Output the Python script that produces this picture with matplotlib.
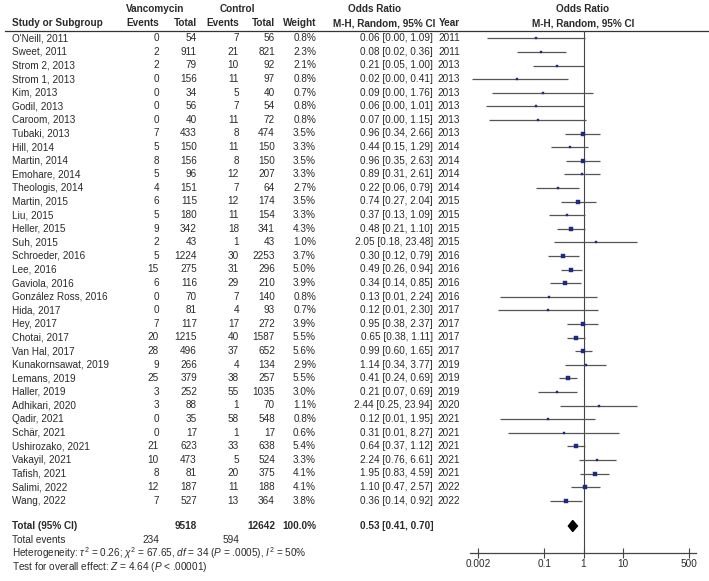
import matplotlib
matplotlib.use("Agg")
import matplotlib.pyplot as plt
import numpy as np

plt.rcParams['font.family'] = ['Liberation Sans', 'DejaVu Sans']
plt.rcParams['mathtext.fontset'] = 'custom'
plt.rcParams['mathtext.rm'] = 'Liberation Sans'
plt.rcParams['mathtext.it'] = 'Liberation Sans:italic'
plt.rcParams['mathtext.bf'] = 'Liberation Sans:bold'

studies = ["O'Neill, 2011", "Sweet, 2011", "Strom 2, 2013", "Strom 1, 2013", "Kim, 2013",
           "Godil, 2013", "Caroom, 2013", "Tubaki, 2013", "Hill, 2014", "Martin, 2014",
           "Emohare, 2014", "Theologis, 2014", "Martin, 2015", "Liu, 2015", "Heller, 2015",
           "Suh, 2015", "Schroeder, 2016", "Lee, 2016", "Gaviola, 2016", "González Ross, 2016",
           "Hida, 2017", "Hey, 2017", "Chotai, 2017", "Van Hal, 2017", "Kunakornsawat, 2019",
           "Lemans, 2019", "Haller, 2019", "Adhikari, 2020", "Qadir, 2021", "Schär, 2021",
           "Ushirozako, 2021", "Vakayil, 2021", "Tafish, 2021", "Salimi, 2022", "Wang, 2022"]
vanco_events = [0, 2, 2, 0, 0, 0, 0, 7, 5, 8, 5, 4, 6, 5, 9, 2, 5, 15, 6, 0, 0, 7, 20, 28, 9, 25, 3, 3, 0, 0, 21, 10, 8, 12, 7]
vanco_total = [54, 911, 79, 156, 34, 56, 40, 433, 150, 156, 96, 151, 115, 180, 342, 43, 1224, 275, 116, 70,
               81, 117, 1215, 496, 266, 379, 252, 88, 35, 17, 623, 473, 81, 187, 527]
ctrl_events = [7, 21, 10, 11, 5, 7, 11, 8, 11, 8, 12, 7, 12, 11, 18, 1, 30, 31, 29, 7, 4, 17, 40, 37, 4, 38, 55, 1, 58, 1, 33, 5, 20, 11, 13]
ctrl_total = [56, 821, 92, 97, 40, 54, 72, 474, 150, 150, 207, 64, 174, 154, 341, 43, 2253, 296, 210, 140,
              93, 272, 1587, 652, 134, 257, 1035, 70, 548, 17, 638, 524, 375, 188, 364]
weights = [0.8, 2.3, 2.1, 0.8, 0.7, 0.8, 0.8, 3.5, 3.3, 3.5, 3.3, 2.7, 3.5, 3.3, 4.3, 1.0, 3.7, 5.0, 3.9, 0.8,
           0.7, 3.9, 5.5, 5.6, 2.9, 5.5, 3.0, 1.1, 0.8, 0.6, 5.4, 3.3, 4.1, 4.1, 3.8]
odds_ratio = [0.06, 0.08, 0.21, 0.02, 0.09, 0.06, 0.07, 0.96, 0.44, 0.96, 0.89, 0.22, 0.74, 0.37, 0.48, 2.05,
              0.30, 0.49, 0.34, 0.13, 0.12, 0.95, 0.65, 0.99, 1.14, 0.41, 0.21, 2.44, 0.12, 0.31, 0.64, 2.24,
              1.95, 1.10, 0.36]
ci_low = [0.0034, 0.02, 0.05, 0.0014, 0.0046, 0.0032, 0.0038, 0.34, 0.15, 0.35, 0.31, 0.06, 0.27, 0.13, 0.21,
          0.18, 0.12, 0.26, 0.14, 0.0072, 0.0065, 0.38, 0.38, 0.60, 0.34, 0.24, 0.07, 0.25, 0.0072, 0.0117,
          0.37, 0.76, 0.83, 0.47, 0.14]
ci_high = [1.09, 0.36, 1.00, 0.41, 1.76, 1.01, 1.15, 2.66, 1.29, 2.63, 2.61, 0.79, 2.04, 1.09, 1.10, 23.48,
           0.79, 0.94, 0.85, 2.24, 2.30, 2.37, 1.11, 1.65, 3.77, 0.69, 0.69, 23.94, 1.95, 8.27, 1.12, 6.61,
           4.59, 2.57, 0.92]
years = [2011, 2011, 2013, 2013, 2013, 2013, 2013, 2013, 2014, 2014, 2014, 2014, 2015, 2015, 2015, 2015,
         2016, 2016, 2016, 2016, 2017, 2017, 2017, 2017, 2019, 2019, 2019, 2020, 2021, 2021, 2021, 2021,
         2021, 2022, 2022]
total_n = [9518, 12642]
total_weight = "100.0%"
total_events = [234, 594]
pooled = [0.53, 0.41, 0.70]
tick_values = [0.002, 0.1, 1, 10, 500]
tick_labels = ["0.002", "0.1", "1", "10", "500"]

W, H = 709, 581
fig = plt.figure(figsize=(W / 100, H / 100), dpi=100)
ax = fig.add_axes([0, 0, 1, 1])
ax.set_xlim(0, W)
ax.set_ylim(H, 0)
ax.axis('off')

tc = '#2a2a2a'
fs = 7.2
row0, dy = 38.3, 13.6
ytot = 526

# headers
hb = dict(fontsize=fs, fontweight='bold', color=tc, va='center')
ax.text(155, 9, "Vancomycin", ha='center', **hb)
ax.text(237, 9, "Control", ha='center', **hb)
ax.text(375, 9, "Odds Ratio", ha='center', **hb)
ax.text(583, 9, "Odds Ratio", ha='center', **hb)
ax.text(12, 23, "Study or Subgroup", ha='left', **hb)
ax.text(159, 23, "Events", ha='right', **hb)
ax.text(197, 23, "Total", ha='right', **hb)
ax.text(239, 23, "Events", ha='right', **hb)
ax.text(275, 23, "Total", ha='right', **hb)
ax.text(316, 23, "Weight", ha='right', **hb)
ax.text(435, 23, "M-H, Random, 95% CI", ha='right', **hb)
ax.text(460, 23, "Year", ha='right', **hb)
ax.text(583, 23, "M-H, Random, 95% CI", ha='center', **hb)
ax.plot([5, W], [30.5, 30.5], color='#333333', lw=0.9)

rt = dict(fontsize=fs, color=tc, va='center')
for i, s in enumerate(studies):
    y = row0 + i * dy
    ax.text(12, y, s, ha='left', **rt)
    ax.text(159, y, f"{vanco_events[i]}", ha='right', **rt)
    ax.text(197, y, f"{vanco_total[i]}", ha='right', **rt)
    ax.text(239, y, f"{ctrl_events[i]}", ha='right', **rt)
    ax.text(275, y, f"{ctrl_total[i]}", ha='right', **rt)
    ax.text(316, y, f"{weights[i]:.1f}%", ha='right', **rt)
    ax.text(433, y, f"{odds_ratio[i]:.2f} [{ci_low[i]:.2f}, {ci_high[i]:.2f}]", ha='right', **rt)
    ax.text(460, y, f"{years[i]}", ha='right', **rt)

bt = dict(fontsize=fs, color=tc, va='center', fontweight='bold')
ax.text(12, ytot, "Total (95% CI)", ha='left', **bt)
ax.text(197, ytot, f"{total_n[0]}", ha='right', **bt)
ax.text(275, ytot, f"{total_n[1]}", ha='right', **bt)
ax.text(316, ytot, total_weight, ha='right', **bt)
ax.text(433, ytot, f"{pooled[0]:.2f} [{pooled[1]:.2f}, {pooled[2]:.2f}]", ha='right', **bt)
ax.text(12, 540, "Total events", ha='left', **rt)
ax.text(159, 540, f"{total_events[0]}", ha='right', **rt)
ax.text(239, 540, f"{total_events[1]}", ha='right', **rt)
ax.text(12, 553.5, r"Heterogeneity: $\tau^2$ = 0.26; $\chi^2$ = 67.65, $df$ = 34 ($P$ = .0005), $I^2$ = 50%",
        ha='left', **rt)
ax.text(12, 567, r"Test for overall effect: $Z$ = 4.64 ($P$ < .00001)", ha='left', **rt)

# forest axes
x_left, x_right = 470, 696
y_top, y_bot = 30.5, 552.7
fa = fig.add_axes([x_left / W, 1 - y_bot / H, (x_right - x_left) / W, (y_bot - y_top) / H])
fa.set_xscale('log')
lo = 10 ** (np.log10(0.002) - 8 / 39.07)
hi = 10 ** (np.log10(500) + 7 / 39.07)
fa.set_xlim(lo, hi)
fa.set_ylim(y_bot, y_top)
fa.patch.set_alpha(0)
for sp in ['top', 'left', 'right']:
    fa.spines[sp].set_visible(False)
fa.spines['bottom'].set_color('#444444')
fa.spines['bottom'].set_linewidth(0.9)
fa.set_yticks([])
fa.set_xticks(tick_values)
fa.set_xticklabels(tick_labels)
fa.minorticks_off()
fa.tick_params(axis='x', direction='inout', length=7, width=0.8, color='#444444',
               labelsize=fs, labelcolor=tc, pad=1)
fa.axvline(1, color='#444444', lw=0.8)

wmax = max(weights)
for i in range(len(studies)):
    y = row0 + i * dy
    fa.plot([max(ci_low[i], lo), min(ci_high[i], hi)], [y, y], color='#555555', lw=0.9, solid_capstyle='butt')
    ms = 1.0 + 1.5 * np.sqrt(weights[i] / wmax)
    fa.plot(odds_ratio[i], y, marker='s', ms=ms, color='#1c2a80', mec='#1c2a80', mew=0.3)

dx = [pooled[1], pooled[0], pooled[2], pooled[0]]
dyy = [ytot, ytot - 5.5, ytot, ytot + 5.5]
fa.fill(dx, dyy, color='black')

fig.savefig("out.png", dpi=100)
